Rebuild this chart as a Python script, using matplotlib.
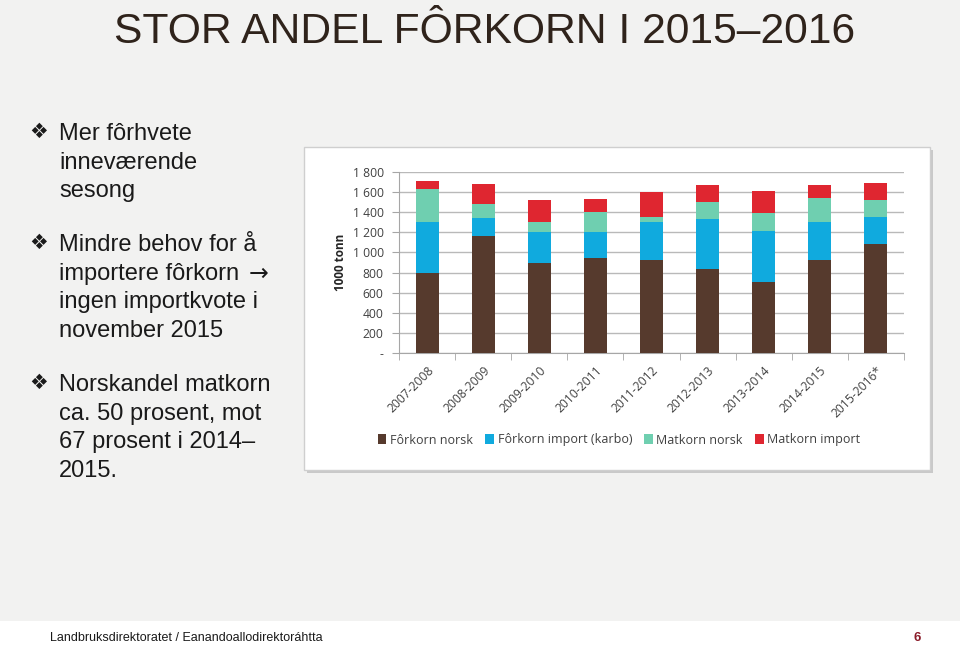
import matplotlib
matplotlib.use("Agg")
from matplotlib import pyplot as plt
from matplotlib.patches import Patch, Rectangle
from matplotlib.ticker import FixedLocator, FuncFormatter

# data (1000 tonn)
seasons = ["2007-2008", "2008-2009", "2009-2010", "2010-2011", "2011-2012",
           "2012-2013", "2013-2014", "2014-2015", "2015-2016*"]
forkorn_norsk = [800, 1160, 900, 940, 920, 840, 710, 920, 1080]
forkorn_import = [500, 180, 300, 260, 380, 490, 505, 380, 270]
matkorn_norsk = [330, 145, 100, 205, 50, 170, 180, 245, 170]
matkorn_import = [80, 200, 220, 130, 250, 175, 220, 130, 175]
series_names = ["Fôrkorn norsk", "Fôrkorn import (karbo)", "Matkorn norsk", "Matkorn import"]
series_colors = ["#563a2d", "#10aade", "#6fcfb0", "#df2630"]

y_ticks = [0, 200, 400, 600, 800, 1000, 1200, 1400, 1600, 1800]

W, H = 960, 646
BG = "#f2f2f1"
TEXT_FONT = ["Liberation Sans", "DejaVu Sans"]
CHART_FONT = ["Open Sans", "DejaVu Sans"]


def fx(px):
    return px / W


def fy(py):
    return 1 - py / H


def tick_label(v, _pos):
    if v == 0:
        return "-"
    return f"{int(v):,}".replace(",", " ")


fig = plt.figure(figsize=(W / 100, H / 100), dpi=100, facecolor=BG)

# footer strip
fig.patches.append(Rectangle((0, 0), 1, fy(621), transform=fig.transFigure,
                             facecolor="white", edgecolor="none", zorder=0))
fig.text(fx(50), fy(641), "Landbruksdirektoratet / Eanandoallodirektoráhtta",
         family=TEXT_FONT, fontsize=9, color="#1a1a1a", va="baseline", ha="left")
fig.text(fx(917), fy(641), "6", family=TEXT_FONT, fontsize=9.5, fontweight="bold",
         color="#8b1c2a", va="baseline", ha="center")

# title
fig.text(fx(114), fy(43), "STOR ANDEL FÔRKORN I 2015\u20132016", family=TEXT_FONT,
         fontsize=30.7, color="#2f231b", va="baseline", ha="left")

# bullet list (baseline of the first line, then the lines)
paragraphs = [
    (140, ["Mer fôrhvete", "inneværende", "sesong"]),
    (251, ["Mindre behov for å", "importere fôrkorn", "ingen importkvote i", "november 2015"]),
    (391, ["Norskandel matkorn", "ca. 50 prosent, mot", "67 prosent i 2014\u2013", "2015."]),
]
LINE_STEP = 28.7
for base, lines in paragraphs:
    fig.text(fx(39), fy(base - 8), "\u2756", family=["DejaVu Sans"], fontsize=15,
             color="#1a1a1a", va="center", ha="center")
    for i, line in enumerate(lines):
        fig.text(fx(59), fy(base + i * LINE_STEP), line, family=TEXT_FONT, fontsize=17,
                 color="#1a1a1a", va="baseline", ha="left")
fig.text(fx(259), fy(251 + LINE_STEP - 6), "\u2192", family=["DejaVu Sans"], fontsize=17,
         color="#1a1a1a", va="center", ha="center")

# chart panel with shadow
fig.patches.append(Rectangle((fx(307), fy(473)), fx(930) - fx(304), fy(147) - fy(470),
                             transform=fig.transFigure, facecolor="#c9c9c9",
                             edgecolor="none", zorder=0.5))
fig.patches.append(Rectangle((fx(304), fy(470)), fx(930) - fx(304), fy(147) - fy(470),
                             transform=fig.transFigure, facecolor="white",
                             edgecolor="#cfcfcf", linewidth=1, zorder=0.6))

ax = fig.add_axes([fx(399), fy(353), fx(904) - fx(399), fy(172) - fy(353)])
ax.set_facecolor("white")
ax.set_zorder(1)

x = list(range(len(seasons)))
bottom = [0] * len(seasons)
for vals, name, color in zip([forkorn_norsk, forkorn_import, matkorn_norsk, matkorn_import],
                             series_names, series_colors):
    ax.bar(x, vals, width=0.41, bottom=bottom, color=color, label=name, zorder=3)
    bottom = [b + v for b, v in zip(bottom, vals)]

ax.set_xlim(-0.5, len(seasons) - 0.5)
ax.set_ylim(0, 1800)
ax.yaxis.set_major_locator(FixedLocator(y_ticks))
ax.yaxis.set_major_formatter(FuncFormatter(tick_label))
ax.grid(axis="y", color="#b9b9b9", linewidth=1, zorder=0)

for side in ["top", "right"]:
    ax.spines[side].set_visible(False)
ax.spines["left"].set_color("#a6a6a6")
ax.spines["bottom"].set_color("#a6a6a6")

ax.set_xticks(x)
ax.set_xticklabels(seasons, rotation=45, ha="right", rotation_mode="anchor",
                   family=CHART_FONT, fontsize=8.7, color="#404040")
ax.tick_params(axis="x", which="major", length=0, pad=8)
ax.set_xticks([i - 0.5 for i in range(len(seasons) + 1)], minor=True)
ax.tick_params(axis="x", which="minor", length=5, color="#a6a6a6")
ax.tick_params(axis="y", length=5, color="#a6a6a6", labelsize=8.7, labelcolor="#404040", pad=6)
for lab in ax.get_yticklabels():
    lab.set_family(CHART_FONT)

fig.text(fx(340), fy(262), "1000 tonn", rotation=90, family=CHART_FONT,
         fontsize=8.5, fontweight="bold", color="#262626", va="center", ha="center")

handles = [Patch(facecolor=c, edgecolor="none") for c in series_colors]
fig.legend(handles, series_names, loc="center", bbox_to_anchor=(fx(619), fy(440)),
           ncol=4, frameon=False, handlelength=0.7, handleheight=0.9, handletextpad=0.3,
           columnspacing=0.95, prop={"family": CHART_FONT, "size": 9},
           labelcolor="#404040")

fig.savefig("out.png", dpi=100, facecolor=BG)
